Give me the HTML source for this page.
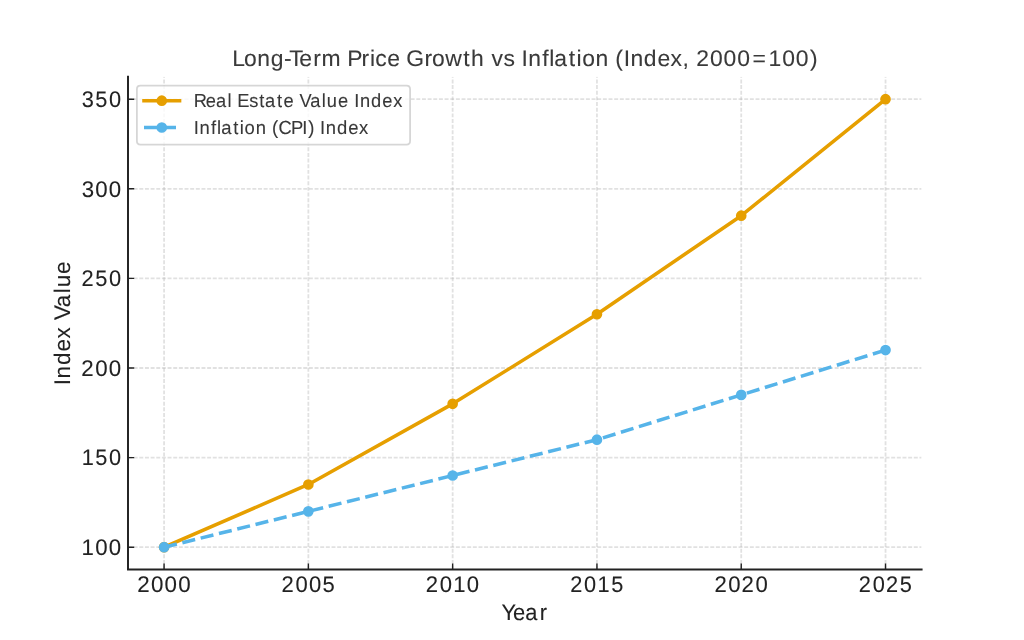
<!DOCTYPE html>
<html><head><meta charset="utf-8"><title>Long-Term Price Growth vs Inflation</title>
<style>
html,body{margin:0;padding:0;background:#ffffff;width:1024px;height:640px;overflow:hidden}
svg{display:block;will-change:transform}
text{font-family:"Liberation Sans",sans-serif;font-variant-ligatures:none;font-kerning:none;white-space:pre;text-rendering:geometricPrecision}
</style></head><body>
<svg width="1024" height="640" viewBox="0 0 576 360">
<defs><clipPath id="ax"><rect x="72" y="43.2" width="446.4" height="277.2"/></clipPath></defs>
<rect x="0" y="0" width="576" height="360" fill="#ffffff"/>
<g clip-path="url(#ax)" fill="none" stroke="#b0b0b0" stroke-opacity="0.38" stroke-width="1.0" stroke-dasharray="2.22,0.96">
<path d="M92.291 320.4V43.2"/>
<path d="M173.455 320.4V43.2"/>
<path d="M254.618 320.4V43.2"/>
<path d="M335.782 320.4V43.2"/>
<path d="M416.945 320.4V43.2"/>
<path d="M498.109 320.4V43.2"/>
<path d="M72 307.800H518.4"/>
<path d="M72 257.400H518.4"/>
<path d="M72 207.000H518.4"/>
<path d="M72 156.600H518.4"/>
<path d="M72 106.200H518.4"/>
<path d="M72 55.800H518.4"/>
</g>
<path d="M92.291 320.4v-3.5M173.455 320.4v-3.5M254.618 320.4v-3.5M335.782 320.4v-3.5M416.945 320.4v-3.5M498.109 320.4v-3.5M72 307.800h3.5M72 257.400h3.5M72 207.000h3.5M72 156.600h3.5M72 106.200h3.5M72 55.800h3.5" stroke="#222222" stroke-width="0.8" fill="none"/>
<g clip-path="url(#ax)">
<polyline points="92.291,307.800 173.455,272.520 254.618,227.160 335.782,176.760 416.945,121.320 498.109,55.800" fill="none" stroke="#e69f00" stroke-width="2" stroke-linecap="square" stroke-linejoin="round"/>
<circle cx="92.291" cy="307.800" r="2.5" fill="#e69f00" stroke="#e69f00" stroke-width="1"/>
<circle cx="173.455" cy="272.520" r="2.5" fill="#e69f00" stroke="#e69f00" stroke-width="1"/>
<circle cx="254.618" cy="227.160" r="2.5" fill="#e69f00" stroke="#e69f00" stroke-width="1"/>
<circle cx="335.782" cy="176.760" r="2.5" fill="#e69f00" stroke="#e69f00" stroke-width="1"/>
<circle cx="416.945" cy="121.320" r="2.5" fill="#e69f00" stroke="#e69f00" stroke-width="1"/>
<circle cx="498.109" cy="55.800" r="2.5" fill="#e69f00" stroke="#e69f00" stroke-width="1"/>
<polyline points="92.291,307.800 173.455,287.640 254.618,267.480 335.782,247.320 416.945,222.120 498.109,196.920" fill="none" stroke="#56b4e9" stroke-width="2" stroke-dasharray="7.4,3.2" stroke-linejoin="round"/>
<circle cx="92.291" cy="307.800" r="2.5" fill="#56b4e9" stroke="#56b4e9" stroke-width="1"/>
<circle cx="173.455" cy="287.640" r="2.5" fill="#56b4e9" stroke="#56b4e9" stroke-width="1"/>
<circle cx="254.618" cy="267.480" r="2.5" fill="#56b4e9" stroke="#56b4e9" stroke-width="1"/>
<circle cx="335.782" cy="247.320" r="2.5" fill="#56b4e9" stroke="#56b4e9" stroke-width="1"/>
<circle cx="416.945" cy="222.120" r="2.5" fill="#56b4e9" stroke="#56b4e9" stroke-width="1"/>
<circle cx="498.109" cy="196.920" r="2.5" fill="#56b4e9" stroke="#56b4e9" stroke-width="1"/>
</g>
<path d="M72 320.4V43.2M72 320.4H518.4" fill="none" stroke="#222222" stroke-width="1.1" stroke-linecap="square" stroke-linejoin="miter"/>
<text transform="translate(77.021 333.260) scale(0.9884 1)" x="0.16 8.03 15.76 23.48" y="0" font-size="12.720" fill="#222222" stroke="#222222" stroke-width="0.05">2000</text>
<text transform="translate(158.185 333.260) scale(0.9734 1)" x="0.21 8.21 16.05 23.87" y="0" font-size="12.720" fill="#222222" stroke="#222222" stroke-width="0.05">2005</text>
<text transform="translate(239.348 333.260) scale(0.9767 1)" x="0.20 8.17 15.95 23.81" y="0" font-size="12.720" fill="#222222" stroke="#222222" stroke-width="0.05">2010</text>
<text transform="translate(320.512 333.260) scale(0.9613 1)" x="0.26 8.36 16.27 24.21" y="0" font-size="12.720" fill="#222222" stroke="#222222" stroke-width="0.05">2015</text>
<text transform="translate(401.675 333.260) scale(0.9788 1)" x="0.19 8.15 15.79 23.75" y="0" font-size="12.720" fill="#222222" stroke="#222222" stroke-width="0.05">2020</text>
<text transform="translate(482.839 333.260) scale(0.9637 1)" x="0.25 8.33 16.10 24.15" y="0" font-size="12.720" fill="#222222" stroke="#222222" stroke-width="0.05">2025</text>
<text transform="translate(45.595 312.150) scale(0.9825 1)" x="0.30 8.10 15.87" y="0" font-size="12.720" fill="#222222" stroke="#222222" stroke-width="0.05">100</text>
<text transform="translate(45.595 261.750) scale(0.9621 1)" x="0.38 8.32 16.28" y="0" font-size="12.720" fill="#222222" stroke="#222222" stroke-width="0.05">150</text>
<text transform="translate(45.595 211.350) scale(0.9852 1)" x="0.17 8.07 15.82" y="0" font-size="12.720" fill="#222222" stroke="#222222" stroke-width="0.05">200</text>
<text transform="translate(45.595 160.950) scale(0.9652 1)" x="0.25 8.28 16.22" y="0" font-size="12.720" fill="#222222" stroke="#222222" stroke-width="0.05">250</text>
<text transform="translate(45.595 110.550) scale(0.9830 1)" x="0.35 8.10 15.86" y="0" font-size="12.720" fill="#222222" stroke="#222222" stroke-width="0.05">300</text>
<text transform="translate(45.595 60.150) scale(0.9632 1)" x="0.43 8.31 16.26" y="0" font-size="12.720" fill="#222222" stroke="#222222" stroke-width="0.05">350</text>
<text transform="translate(282.480 348.600) scale(0.9676 1)" x="-0.45 6.23 13.38 21.82" y="0" font-size="12.720" fill="#222222" stroke="#222222" stroke-width="0.05">Year</text>
<text transform="rotate(-90 39.1 181.8) translate(4.195 181.800) scale(0.9916 1)" x="0.02 3.90 11.47 19.13 26.53 33.32 37.05 44.23 52.20 55.55 63.16" y="0" font-size="12.720" fill="#222222" stroke="#222222" stroke-width="0.05">Index Value</text>
<text transform="translate(130.680 37.200) scale(1.0134 1)" x="0.00 6.47 13.88 21.29 28.69 31.60 37.19 44.87 49.51 60.55 63.83 71.76 76.36 79.34 86.04 93.20 96.60 106.65 110.82 118.22 128.20 132.54 139.82 143.91 150.58 156.76 160.51 164.26 171.97 175.93 178.63 186.76 191.12 194.25 201.66 208.92 212.56 217.28 221.04 228.45 235.94 243.19 249.90 253.67 257.50 265.18 272.71 280.25 288.80 297.66 305.23 312.77 320.60" y="0" font-size="12.720" fill="#3a3a3a" stroke="#3a3a3a" stroke-width="0.05">Long-Term Price Growth vs Inflation (Index, 2000=100)</text>
<path d="M79 81.36L228.675 81.36Q230.675 81.36 230.675 79.36L230.675 50.2Q230.675 48.2 228.675 48.2L79 48.2Q77 48.2 77 50.2L77 79.36Q77 81.36 79 81.36z" fill="#ffffff" fill-opacity="0.8" stroke="#cccccc" stroke-opacity="0.8" stroke-width="1"/>
<path d="M81 56.62H101" stroke="#e69f00" stroke-width="2" stroke-linecap="square" fill="none"/>
<circle cx="91" cy="56.62" r="2.5" fill="#e69f00" stroke="#e69f00" stroke-width="1"/>
<text transform="translate(109.000 60.120) scale(0.9707 1)" x="-0.09 6.93 12.87 19.61 22.21 25.16 32.10 37.88 41.23 48.23 51.99 58.09 61.34 67.44 74.19 77.07 83.55 89.65 92.97 96.31 102.75 109.27 115.57" y="0" font-size="10.600" fill="#383838" stroke="#383838" stroke-width="0.05">Real Estate Value Index</text>
<path d="M81 71.7H101" stroke="#56b4e9" stroke-width="2" stroke-dasharray="7.4,3.2" fill="none"/>
<circle cx="91" cy="71.7" r="2.5" fill="#56b4e9" stroke="#56b4e9" stroke-width="1"/>
<text transform="translate(109.000 75.200) scale(0.9793 1)" x="0.04 3.32 9.92 13.33 15.72 22.68 26.43 29.19 35.57 41.73 44.94 48.66 55.81 62.29 65.76 69.25 72.53 75.82 82.21 88.67 94.91" y="0" font-size="10.600" fill="#383838" stroke="#383838" stroke-width="0.05">Inflation (CPI) Index</text>
</svg>
</body></html>
